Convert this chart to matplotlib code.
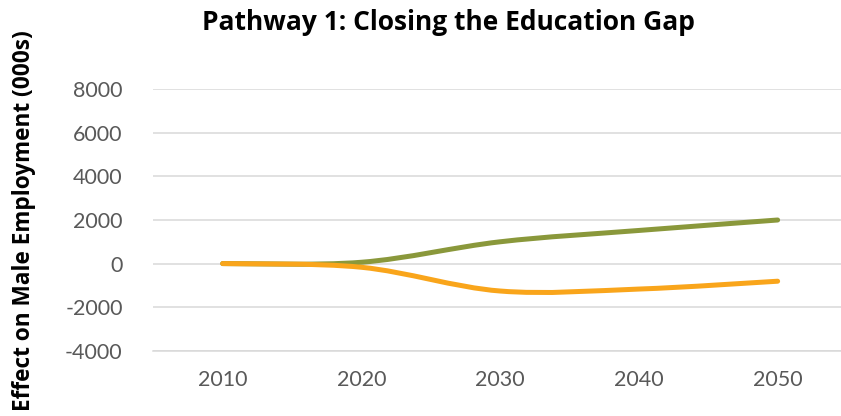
import matplotlib
matplotlib.use("Agg")
import matplotlib.pyplot as plt
from matplotlib.path import Path
from matplotlib.patches import PathPatch

years = [2010, 2020, 2030, 2040, 2050]
series_names = ["Series A", "Series B"]
green_values = [0, 60, 1000, 1520, 2000]
orange_values = [0, -170, -1260, -1170, -810]
y_ticks = [-4000, -2000, 0, 2000, 4000, 6000, 8000]
title = "Pathway 1: Closing the Education Gap"
y_label = "Effect on Male Employment (000s)"

GREEN = "#8a983b"
ORANGE = "#f9a51b"
FONT = ["Lato", "DejaVu Sans"]
BOLD_FONT = ["Open Sans", "DejaVu Sans"]

plt.rcParams["font.family"] = FONT


def smooth_path(xs, ys):
    """Excel-like smoothed line: cubic Bezier through the data points."""
    verts = [(xs[0], ys[0])]
    codes = [Path.MOVETO]
    n = len(xs)
    for i in range(n - 1):
        x0, y0 = (xs[i - 1], ys[i - 1]) if i > 0 else (xs[i], ys[i])
        x1, y1 = xs[i], ys[i]
        x2, y2 = xs[i + 1], ys[i + 1]
        x3, y3 = (xs[i + 2], ys[i + 2]) if i + 2 < n else (x2, y2)
        c1 = (x1 + (x2 - x0) / 6.0, y1 + (y2 - y0) / 6.0)
        c2 = (x2 - (x3 - x1) / 6.0, y2 - (y3 - y1) / 6.0)
        verts += [c1, c2, (x2, y2)]
        codes += [Path.CURVE4, Path.CURVE4, Path.CURVE4]
    return Path(verts, codes)


fig = plt.figure(figsize=(8.41, 4.16), dpi=100)
ax = fig.add_axes([153.3 / 841, 65.3 / 416, (847 - 153.3) / 841, (350.7 - 89.3) / 416])

for vals, col in ((green_values, GREEN), (orange_values, ORANGE)):
    patch = PathPatch(smooth_path(years, vals), facecolor="none", edgecolor=col,
                      linewidth=3.6, capstyle="round", joinstyle="round", zorder=3)
    ax.add_patch(patch)

ax.set_xlim(2005, 2055)
ax.set_ylim(-4000, 8000)
ax.set_yticks(y_ticks)
ax.set_yticklabels([str(t) for t in y_ticks])
ax.set_xticks(years)
ax.set_xticklabels([str(y) for y in years])
ax.grid(axis="y", color="#d9d9d9", linewidth=1.1)
ax.set_axisbelow(True)
for s in ("top", "right", "left"):
    ax.spines[s].set_visible(False)
ax.spines["bottom"].set_color("#d9d9d9")
ax.spines["bottom"].set_linewidth(1.1)
ax.tick_params(axis="both", length=0, labelsize=15.5, colors="#595959")
ax.tick_params(axis="y", pad=22)
ax.tick_params(axis="x", pad=14)

fig.text(448 / 841, 1 - 30 / 416, title, ha="center", va="baseline",
         fontsize=19, fontweight="bold", color="#000000", family=BOLD_FONT)
fig.text(24 / 841, 1 - 220.5 / 416, y_label, ha="center", va="center", rotation=90,
         fontsize=16.3, fontweight="bold", color="#000000", family=BOLD_FONT)

fig.savefig("out.png", dpi=100)
